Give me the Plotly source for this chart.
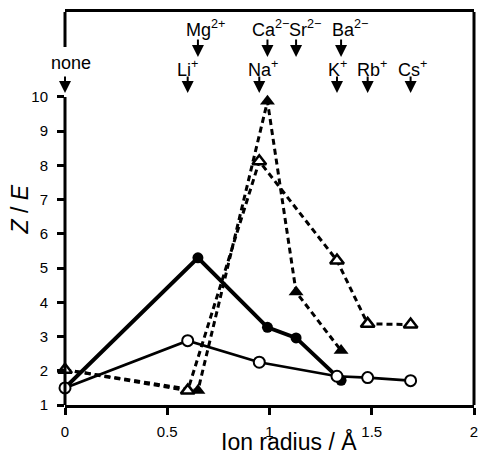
import plotly.graph_objects as go

# --- data ---
mono_ions = ["none", "Li<sup>+</sup>", "Na<sup>+</sup>", "K<sup>+</sup>", "Rb<sup>+</sup>", "Cs<sup>+</sup>"]
mono_radius = [0, 0.60, 0.95, 1.33, 1.48, 1.69]
di_ions = ["Mg<sup>2+</sup>", "Ca<sup>2−</sup>", "Sr<sup>2−</sup>", "Ba<sup>2−</sup>"]
di_radius = [0.65, 0.99, 1.13, 1.35]

di_x = [0] + di_radius
mono_x = mono_radius

filled_circle_y = [1.5, 5.3, 3.27, 2.96, 1.72]          # divalent, solid thick
open_circle_y = [1.5, 2.88, 2.25, 1.84, 1.80, 1.71]     # monovalent, solid thin
open_triangle_y = [2.03, 1.42, 8.12, 5.22, 3.37, 3.35]  # monovalent, dashed
filled_triangle_y = [2.03, 1.42, 9.87, 4.30, 2.59]      # divalent, dashed

x_ticks = [0, 0.5, 1, 1.5, 2]
x_ticklabels = ["0", "0.5", "1", "1.5", "2"]
y_ticks = [1, 2, 3, 4, 5, 6, 7, 8, 9, 10]

# --- layout constants ---
W, H = 482, 454
ML, MR, MT, MB = 65, 3.5, 12, 49
XMIN, XMAX = 0, 2
YMIN, YMAX = 1, 12.48
FONT = "Arial, Liberation Sans, sans-serif"
plot_h = H - MT - MB
plot_w = W - ML - MR
PLOT_BOTTOM = H - MB  # px


def py2d(px):  # pixel y -> data y
    return YMIN + (PLOT_BOTTOM - px) / plot_h * (YMAX - YMIN)


def d2paper(v):
    return (v - YMIN) / (YMAX - YMIN)


fig = go.Figure()

fig.add_trace(go.Scatter(
    x=di_x, y=filled_circle_y, mode="lines+markers",
    line=dict(color="black", width=4),
    marker=dict(symbol="circle", size=11, color="black"),
    cliponaxis=False, showlegend=False))
fig.add_trace(go.Scatter(
    x=di_x, y=filled_triangle_y, mode="lines+markers",
    line=dict(color="black", width=3, dash="6px,4px"),
    marker=dict(symbol="triangle-up", size=13, color="black"),
    cliponaxis=False, showlegend=False))
fig.add_trace(go.Scatter(
    x=mono_x, y=open_triangle_y, mode="lines+markers",
    line=dict(color="black", width=3, dash="6px,4px"),
    marker=dict(symbol="triangle-up", size=12, color="white",
                line=dict(color="black", width=2.5)),
    cliponaxis=False, showlegend=False))
fig.add_trace(go.Scatter(
    x=mono_x, y=open_circle_y, mode="lines+markers",
    line=dict(color="black", width=2.7),
    marker=dict(symbol="circle", size=11, color="white",
                line=dict(color="black", width=2)),
    cliponaxis=False, showlegend=False))

annotations = []
# upper row (divalent)
up_shift = [8, 3, 9, 9]
for name, r, sh in zip(di_ions, di_radius, up_shift):
    annotations.append(dict(x=r, y=py2d(57), xref="x", yref="y", axref="x", ayref="y",
                            ax=r, ay=py2d(38), text="", showarrow=True,
                            arrowhead=2, arrowsize=1.2, arrowwidth=2, arrowcolor="black"))
    annotations.append(dict(x=r, y=py2d(28), xref="x", yref="y", text=name, showarrow=False,
                            xanchor="center", yanchor="middle", xshift=sh,
                            font=dict(family=FONT, size=18, color="black")))
# lower row (monovalent + none)
low_shift = [6, 0, 3.5, 1, 4.5, 1.5]
for name, r, sh in zip(mono_ions, mono_radius, low_shift):
    annotations.append(dict(x=r, y=py2d(93), xref="x", yref="y", axref="x", ayref="y",
                            ax=r, ay=py2d(75), text="", showarrow=True,
                            arrowhead=2, arrowsize=1.2, arrowwidth=2, arrowcolor="black"))
    ly = py2d(63) if name == "none" else py2d(68.5)
    annotations.append(dict(x=r, y=ly, xref="x", yref="y", text=name, showarrow=False,
                            xanchor="center", yanchor="middle", xshift=sh,
                            font=dict(family=FONT, size=18, color="black")))

# axis titles
annotations.append(dict(x=(291 - ML) / plot_w, y=-(442 - PLOT_BOTTOM) / plot_h,
                        xref="paper", yref="paper", text="Ion radius / Å", showarrow=False,
                        xanchor="center", yanchor="middle",
                        font=dict(family=FONT, size=23, color="black")))
annotations.append(dict(x=-(ML - 19) / plot_w, y=(PLOT_BOTTOM - 210) / plot_h,
                        xref="paper", yref="paper", text="<i>Z</i> / <i>E</i>", showarrow=False,
                        textangle=-90, xanchor="center", yanchor="middle",
                        font=dict(family=FONT, size=23, color="black")))

shapes = [
    # left axis line (y=1..10)
    dict(type="line", xref="paper", yref="paper", x0=0, x1=0,
         y0=0, y1=d2paper(10), line=dict(color="black", width=3)),
    # left frame piece at top
    dict(type="line", xref="paper", yref="paper", x0=0, x1=0,
         y0=d2paper(py2d(47)), y1=1, line=dict(color="black", width=3)),
    # right frame
    dict(type="line", xref="paper", yref="paper", x0=1, x1=1,
         y0=0, y1=1, line=dict(color="black", width=3)),
]

fig.update_layout(
    width=W, height=H,
    margin=dict(l=ML, r=MR, t=MT, b=MB, pad=0),
    paper_bgcolor="white", plot_bgcolor="white",
    font=dict(family=FONT, size=15, color="black"),
    xaxis=dict(range=[XMIN, XMAX], tickvals=x_ticks, ticktext=x_ticklabels,
               showgrid=False, zeroline=False, showline=True, linecolor="black",
               linewidth=3, mirror=True, ticks="outside", ticklen=7, tickwidth=2.5,
               tickcolor="black", ticklabelstandoff=4, ticklabeloverflow="allow",
               tickfont=dict(family=FONT, size=15, color="black")),
    yaxis=dict(range=[YMIN, YMAX], tickvals=y_ticks,
               showgrid=False, zeroline=False, showline=False,
               ticks="outside", ticklen=7, tickwidth=2.5, tickcolor="black",
               ticklabelstandoff=6,
               tickfont=dict(family=FONT, size=15, color="black")),
    annotations=annotations,
    shapes=shapes,
)

PAGE_JS = ("document.documentElement.style.overflow='hidden';"
           "document.body.style.margin='0';document.body.style.overflow='hidden';")
fig.write_html("out.html", post_script=PAGE_JS, config={"displayModeBar": False})
